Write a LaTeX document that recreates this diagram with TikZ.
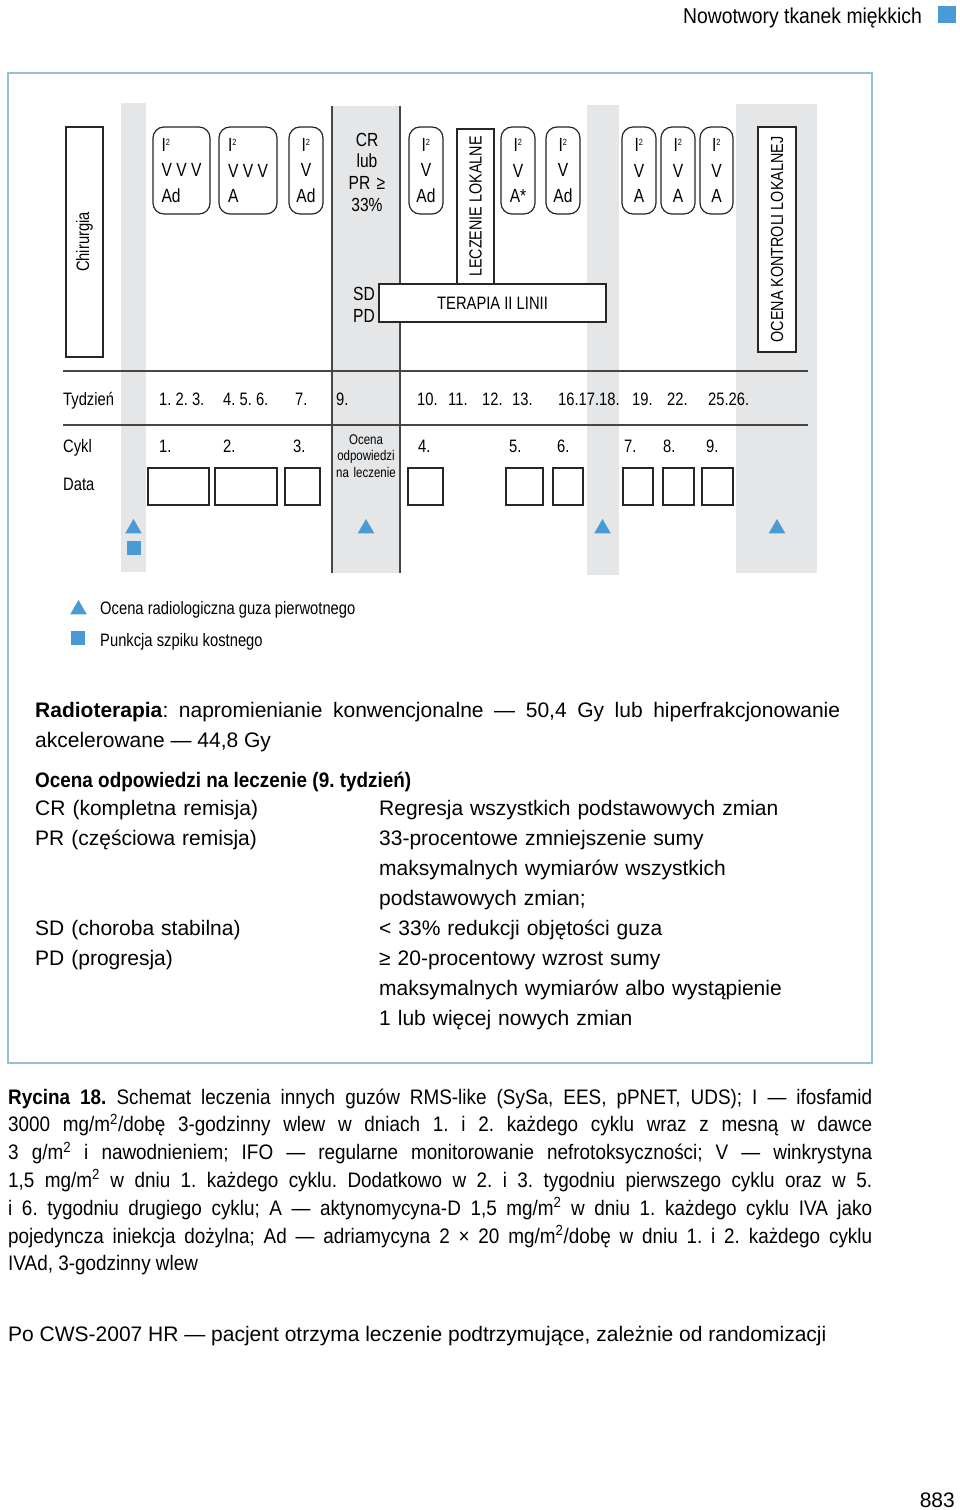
\documentclass[tikz,border=0pt]{standalone}
\usepackage{fontspec}
\setmainfont{Liberation Sans}
\newfontfamily\narrowfont[FakeStretch=0.82]{Liberation Sans}
\newfontfamily\capfont[FakeStretch=0.9]{Liberation Sans}
\usetikzlibrary{shapes.geometric}
\frenchspacing
\definecolor{markblue}{RGB}{74,155,213}
\definecolor{colgray}{RGB}{229,230,232}
\definecolor{frameblue}{RGB}{150,192,212}
\definecolor{linegray}{RGB}{70,70,70}
\newcommand\dgfont{\narrowfont\fontsize{18}{22}\selectfont}
\newcommand\boxfont{\narrowfont\fontsize{19}{25.5}\selectfont}
\newcommand\capsfont{\narrowfont\fontsize{17.5}{20}\selectfont}
\newcommand\bodyfont{\fontsize{21}{30}\selectfont}
\newcommand\captfont{\capfont\fontsize{21}{27.8}\selectfont}
\newcommand\Isq{I\textsuperscript{\fontsize{9}{9}\selectfont 2}}
\tikzset{
    rbox/.style={draw=black!85, line width=1.2pt, rounded corners=11pt, minimum height=87pt, inner sep=0pt, font=\boxfont},
    rotbox/.style={draw=black!85, line width=1.2pt, fill=white, inner sep=0pt, rotate=90, font=\capsfont},
    datebox/.style={draw=black!85, line width=1.2pt, minimum height=37pt, inner sep=0pt},
    tri/.style={regular polygon, regular polygon sides=3, fill=markblue, minimum size=19pt, inner sep=0pt},
    sq/.style={fill=markblue, minimum size=14pt, inner sep=0pt},
    lab/.style={anchor=base west, inner sep=0pt, font=\dgfont}
}
\begin{document}
\begin{tikzpicture}[x=1pt,y=-1pt]
    \fill[white] (0,0) rectangle (960,1510);
    \useasboundingbox (0,0) rectangle (960,1510);
    % naglowek
    \node[anchor=base east, inner sep=0pt, font=\capfont\fontsize{21.5}{26}\selectfont] (head) at (922,23) {Nowotwory tkanek miękkich};
    \fill[markblue] (938,6) rectangle (956,23);
    \draw[frameblue, line width=1.5pt] (8,73) rectangle (872,1063);
    % kolumny
    \begin{scope}
        \fill[colgray] (121,103) rectangle (146,572);
        \fill[colgray] (332,106) rectangle (400,573);
        \fill[colgray] (587,105) rectangle (619,575);
        \fill[colgray] (736,104) rectangle (817,573);
        \draw[linegray, line width=1.2pt] (332,106) -- (332,573) (400,106) -- (400,573);
        \draw[linegray, line width=1.5pt] (63,371) -- (808,371) (63,425) -- (808,425);
    \end{scope}
    \begin{scope}
        \node[rotbox, minimum width=230pt, minimum height=37pt, font=\dgfont] (chir) at (84.5,242) {Chirurgia};
        \node[rbox, minimum width=57pt, align=left] (b1) at (181.5,170.5) {\Isq\\V V V\\Ad};
        \node[rbox, minimum width=58pt, align=left] (b2) at (248,170.5) {\Isq\\V V V\\A};
        \node[rbox, minimum width=34pt, align=center] (b3) at (306,170.5) {\Isq\\V\\Ad};
        \node[anchor=base, inner sep=0pt, text width=60pt, align=center, font=\narrowfont\fontsize{19}{21.7}\selectfont] (resp) at (367,146) {CR\\lub\\PR ≥\\33\%};
        \node[anchor=base west, inner sep=0pt, text width=30pt, align=left, font=\narrowfont\fontsize{19}{22}\selectfont] (sdpd) at (353,300) {SD\\PD};
        \node[rbox, minimum width=34pt, align=center] (b4) at (426,170.5) {\Isq\\V\\Ad};
        \node[rotbox, minimum width=227pt, minimum height=38pt, rotate=-90, font=\dgfont] (ter) at (492.5,303) {TERAPIA II LINII};
        \node[rotbox, minimum width=155pt, minimum height=37pt] (lok) at (475.5,206.5) {LECZENIE LOKALNE};
        \node[rbox, minimum width=34pt, align=center] (b5) at (518,170.5) {\Isq\\V\\A*};
        \node[rbox, minimum width=34pt, align=center] (b6) at (563,170.5) {\Isq\\V\\Ad};
        \node[rbox, minimum width=34pt, align=center] (b7) at (639,170.5) {\Isq\\V\\A};
        \node[rbox, minimum width=34pt, align=center] (b8) at (678,170.5) {\Isq\\V\\A};
        \node[rbox, minimum width=33pt, align=center] (b9) at (716.5,170.5) {\Isq\\V\\A};
        \node[rotbox, minimum width=225pt, minimum height=38pt] (kontr) at (777,239.5) {OCENA KONTROLI LOKALNEJ};
    \end{scope}
    % tygodnie, cykle, daty
    \begin{scope}
        \tikzstyle{every node}=[lab]
        \node (tyd) at (63,405) {Tydzień};
        \node (w1) at (159,405) {1. 2. 3.};
        \node (w4) at (223,405) {4. 5. 6.};
        \node (w7) at (295,405) {7.};
        \node (w9) at (336,405) {9.};
        \node (w10) at (417,405) {10.};
        \node (w11) at (448,405) {11.};
        \node (w12) at (482,405) {12.};
        \node (w13) at (512,405) {13.};
        \node (w16) at (558,405) {16.17.18.};
        \node (w19) at (632,405) {19.};
        \node (w22) at (667,405) {22.};
        \node (w25) at (708,405) {25.26.};
        \node (cykl) at (63,452) {Cykl};
        \node (c1) at (159,452) {1.};
        \node (c2) at (223,452) {2.};
        \node (c3) at (293,452) {3.};
        \node (c4) at (418,452) {4.};
        \node (c5) at (509,452) {5.};
        \node (c6) at (557,452) {6.};
        \node (c7) at (624,452) {7.};
        \node (c8) at (663,452) {8.};
        \node (c9) at (706,452) {9.};
        \node (data) at (63,490) {Data};
    \end{scope}
    \node[anchor=base, inner sep=0pt, text width=70pt, align=center, font=\narrowfont\fontsize{14}{16.5}\selectfont] (evl) at (366,444) {Ocena\\odpowiedzi\\na leczenie};
    \begin{scope}
        \tikzstyle{every node}=[datebox]
        \node[minimum width=61pt] (d1) at (178.5,486.5) {};
        \node[minimum width=62pt] (d2) at (246,486.5) {};
        \node[minimum width=35pt] (d3) at (302.5,486.5) {};
        \node[minimum width=35pt] (d4) at (425.5,486.5) {};
        \node[minimum width=37pt] (d5) at (524.5,486.5) {};
        \node[minimum width=30pt] (d6) at (568,486.5) {};
        \node[minimum width=30pt] (d7) at (638,486.5) {};
        \node[minimum width=31pt] (d8) at (678.5,486.5) {};
        \node[minimum width=31pt] (d9) at (717.5,486.5) {};
    \end{scope}
    % znaczniki
    \node[tri] (t1) at (133.5,528.5) {};
    \node[sq] (s1) at (134,548) {};
    \node[tri] (t2) at (366,528.5) {};
    \node[tri] (t3) at (602.5,528.5) {};
    \node[tri] (t4) at (777,528.5) {};
    \node[tri] (lt) at (78.5,609.5) {};
    \node[sq] (ls) at (78,637.5) {};
    \node[lab] (ltxt) at (100,614) {Ocena radiologiczna guza pierwotnego};
    \node[lab] (lstxt) at (100,646) {Punkcja szpiku kostnego};
    % opis
    \begin{scope}
        \tikzstyle{every node}=[anchor=base west, inner sep=0pt, font=\bodyfont]
        \node[text width=805pt, align=justify] (radio) at (35,717) {\tolerance=9999\hyphenpenalty=10000 \textbf{Radioterapia}: napromienianie konwencjonalne — 50,4 Gy lub hiperfrakcjonowanie\linebreak akcelerowane — 44,8 Gy};
        \node[font=\capfont\bfseries\fontsize{21}{30}\selectfont] (ocena) at (35,787) {Ocena odpowiedzi na leczenie (9. tydzień)};
        \node[text width=320pt, align=left] (lcol1) at (35,815) {CR (kompletna remisja)\\PR (częściowa remisja)};
        \node[text width=320pt, align=left] (lcol2) at (35,935) {SD (choroba stabilna)\\PD (progresja)};
        \node[text width=480pt, align=left] (rcol) at (379,815) {Regresja wszystkich podstawowych zmian\\33-procentowe zmniejszenie sumy\\maksymalnych wymiarów wszystkich\\podstawowych zmian;\\< 33\% redukcji objętości guza\\≥ 20-procentowy wzrost sumy\\maksymalnych wymiarów albo wystąpienie\\1 lub więcej nowych zmian};
        \node[text width=864pt, align=justify, font=\captfont] (cap) at (8,1104) {\tolerance=9999\hyphenpenalty=10000 \textbf{Rycina 18.} Schemat leczenia innych guzów RMS-like (SySa, EES, pPNET, UDS); I — ifosfamid\linebreak 3000 mg/m\textsuperscript{2}/dobę 3-godzinny wlew w dniach 1. i 2. każdego cyklu wraz z mesną w dawce\linebreak 3 g/m\textsuperscript{2} i nawodnieniem; IFO — regularne monitorowanie nefrotoksyczności; V — winkrystyna\linebreak 1,5 mg/m\textsuperscript{2} w dniu 1. każdego cyklu. Dodatkowo w 2. i 3. tygodniu pierwszego cyklu oraz w 5.\linebreak i 6. tygodniu drugiego cyklu; A — aktynomycyna-D 1,5 mg/m\textsuperscript{2} w dniu 1. każdego cyklu IVA jako\linebreak pojedyncza iniekcja dożylna; Ad — adriamycyna 2 × 20 mg/m\textsuperscript{2}/dobę w dniu 1. i 2. każdego cyklu\linebreak IVAd, 3-godzinny wlew};
        \node (po) at (8,1341) {Po CWS-2007 HR — pacjent otrzyma leczenie podtrzymujące, zależnie od randomizacji};
        \node[anchor=base east] (page) at (955,1507) {883};
    \end{scope}
\end{tikzpicture}
\end{document}
